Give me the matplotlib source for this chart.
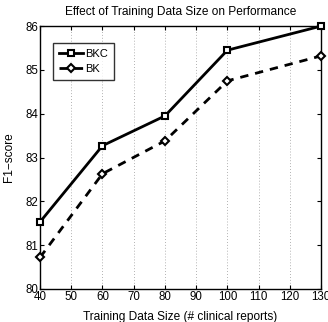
import matplotlib
matplotlib.use("Agg")
import matplotlib.pyplot as plt

plt.rcParams['font.family'] = ['Liberation Sans', 'DejaVu Sans']

sizes = [40, 60, 80, 100, 130]
bkc = [81.53, 83.27, 83.95, 85.45, 86.0]
bk = [80.72, 82.63, 83.38, 84.75, 85.32]
xticks = [40, 50, 60, 70, 80, 90, 100, 110, 120, 130]
yticks = [80, 81, 82, 83, 84, 85, 86]

fig = plt.figure(figsize=(3.28, 3.22), dpi=100)
ax = fig.add_axes([0.122, 0.1025, 0.857, 0.8165])
ax.plot(sizes, bkc, '-s', color='black', lw=2, ms=5, mfc='white', mew=1.5, label='BKC', clip_on=False, zorder=3)
ax.plot(sizes, bk, '--D', color='black', lw=2, ms=4.5, mfc='white', mew=1.5, label='BK', clip_on=False, zorder=3, dashes=(3, 2.5))
ax.set_xlim(40, 130)
ax.set_ylim(80, 86)
ax.set_xticks(xticks)
ax.set_yticks(yticks)
ax.tick_params(direction='in', top=True, right=True, labelsize=8.3, length=3, pad=1.5)
ax.xaxis.grid(True, linestyle=(0, (1, 2.5)), color='#999999', lw=0.6)
for s in ax.spines.values():
    s.set_linewidth(1.0)
ax.set_title('Effect of Training Data Size on Performance', fontsize=8.6, pad=8)
ax.set_xlabel('Training Data Size (# clinical reports)', fontsize=8.6, labelpad=6)
ax.set_ylabel('F1\u2212score', fontsize=8.6, labelpad=7)
leg = ax.legend(loc='upper left', bbox_to_anchor=(0.046, 0.935), fontsize=8, frameon=True, fancybox=False,
                edgecolor='black', handlelength=2.2, borderpad=0.5, labelspacing=0.5, handletextpad=0.2,
                borderaxespad=0)
leg.get_frame().set_linewidth(1.0)
fig.savefig('out.png', dpi=100)
